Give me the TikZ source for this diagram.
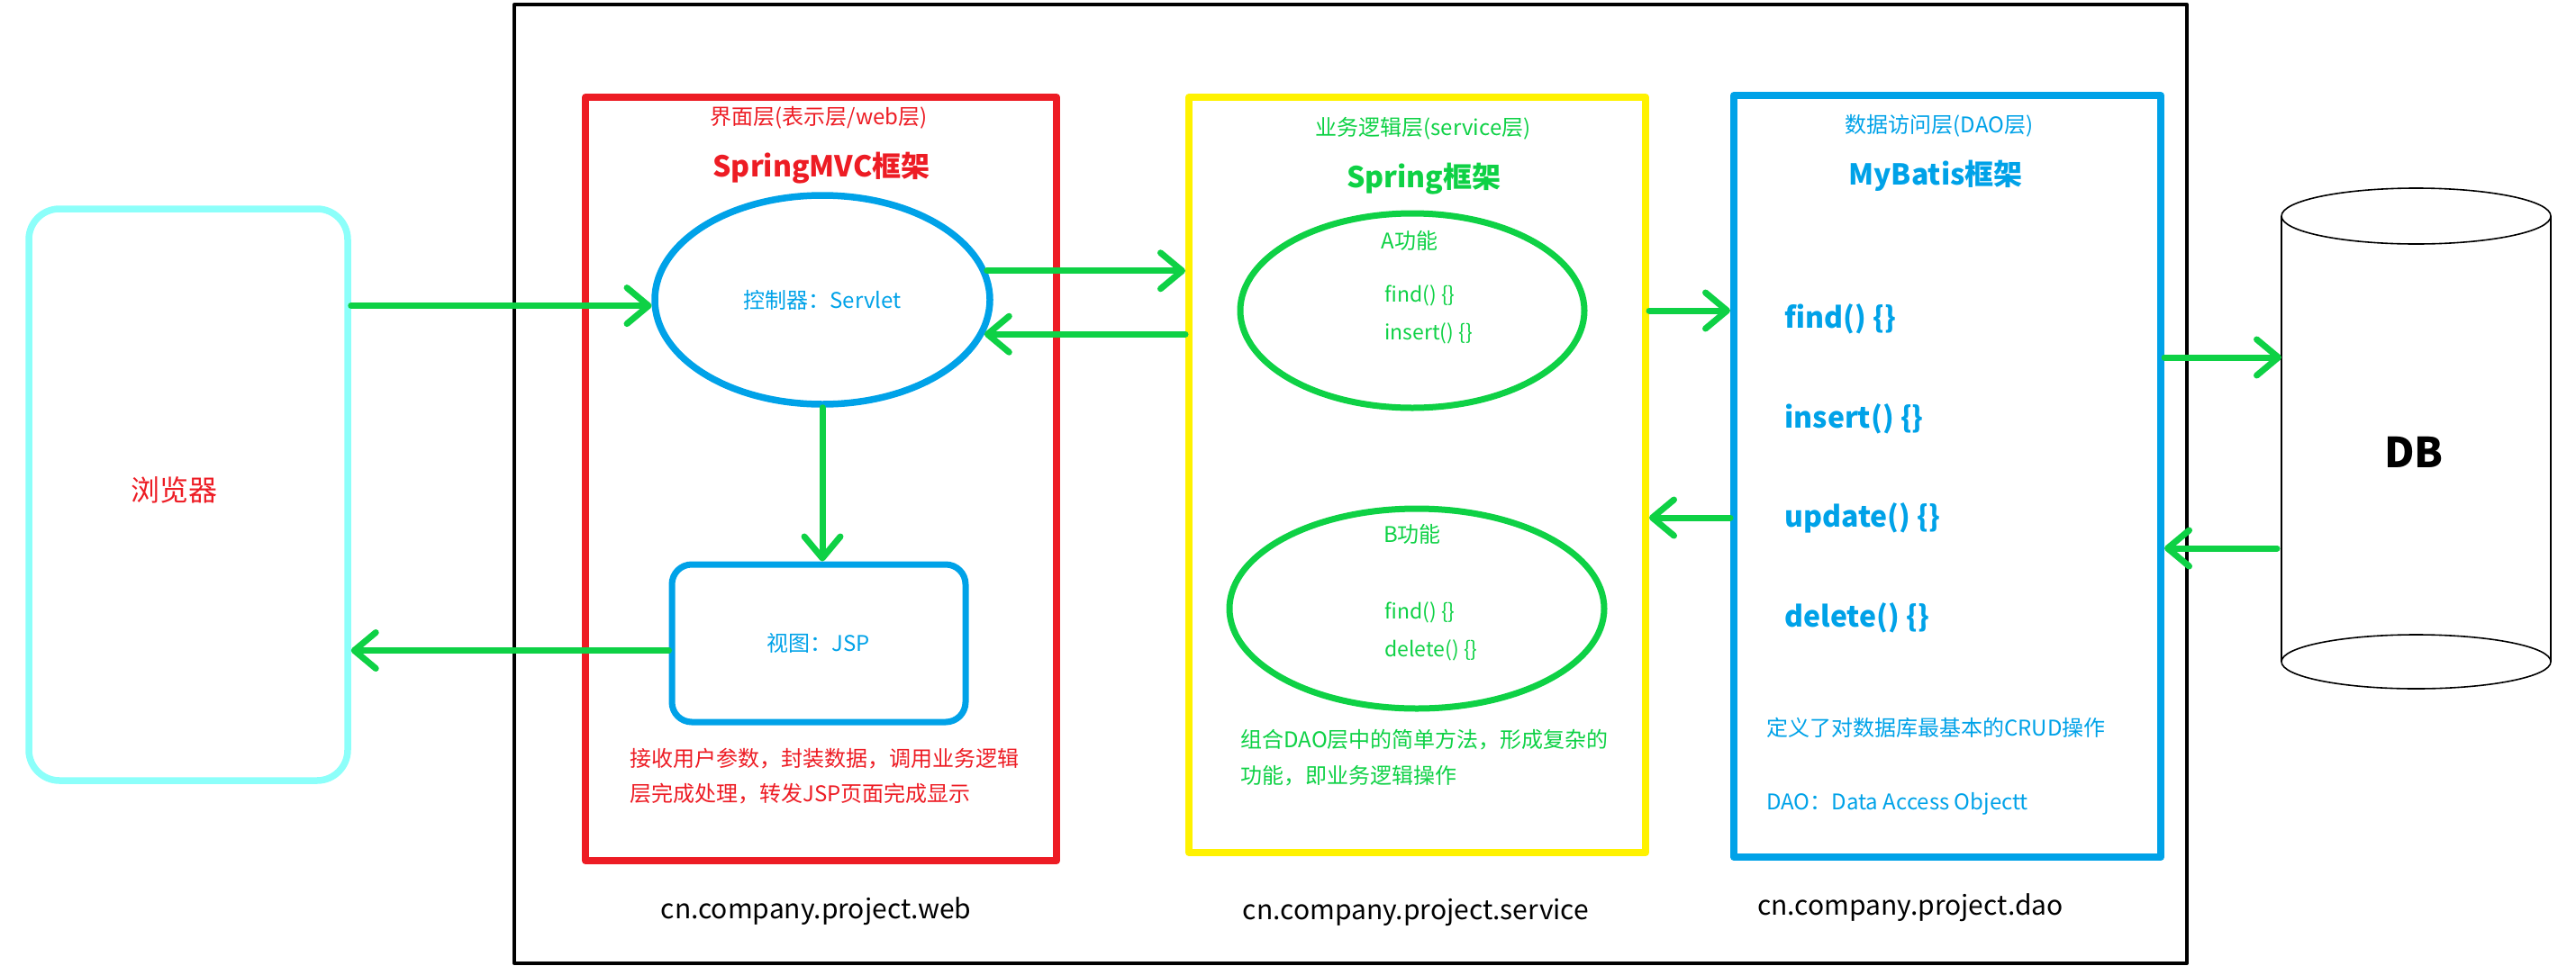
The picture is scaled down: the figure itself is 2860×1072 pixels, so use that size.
\documentclass[tikz,border=0pt]{standalone}
\usepackage{fontspec}
\setmainfont{Noto Sans CJK SC}
\usepackage{tikz}
\usetikzlibrary{arrows.meta, shapes.geometric, positioning}
\definecolor{webred}{RGB}{237,28,36}
\definecolor{srvyellow}{RGB}{255,242,0}
\definecolor{daoblue}{RGB}{0,162,232}
\definecolor{flowgreen}{RGB}{14,209,69}
\definecolor{browsercyan}{RGB}{140,255,250}
\tikzset{>/.tip={Straight Barb[length=12pt,width=20pt,round]}}
\tikzset{
 layer/.style={draw, line width=4pt, inner sep=0pt},
 flow/.style={->, draw=flowgreen, line width=3.5pt},
 small/.style={font=\fontsize{12}{14}\selectfont, inner sep=0pt},
 note/.style={font=\fontsize{12}{19.5}\selectfont, inner sep=0pt, align=left, anchor=west},
 heading/.style={font=\fontsize{16}{19}\selectfont\bfseries, inner sep=0pt},
 pkg/.style={font=\fontsize{15}{18}\selectfont, inner sep=0pt},
 code/.style={font=\fontsize{11.5}{14}\selectfont, inner sep=0pt, anchor=west},
 method/.style={font=\fontsize{16}{19}\selectfont\bfseries, inner sep=0pt, anchor=west, text=daoblue},
}

\begin{document}
\begin{tikzpicture}[line cap=round,line join=round,x=0.5pt,y=-0.5pt]
\useasboundingbox (0,0) rectangle (2860,1072);

% frame and layers
\draw[]
 (1499.5,537.5) node[draw, line width=2pt, minimum width=928.5pt, minimum height=532.5pt] (outer) {}
 (209,549.5) node[draw=browsercyan, line width=3.75pt, rounded corners=17pt, minimum width=177pt, minimum height=317.5pt] (browser) {}
 (911.5,532) node[layer, draw=webred, minimum width=261.5pt, minimum height=424pt] (web) {}
 (1573.5,527.5) node[layer, draw=srvyellow, minimum width=253.5pt, minimum height=419.5pt] (srv) {}
 (2162,529) node[layer, draw=daoblue, minimum width=237pt, minimum height=423pt] (dao) {};

% browser
\draw[] (193,544) node[font=\fontsize{16}{19}\selectfont, text=webred] (browsertxt) {浏览器};

% web layer
\draw[]
 (909,131) node[small, text=webred] (weblabel) {界面层(表示层/web层)}
 (912,187) node[heading, text=webred] (webtitle) {SpringMVC框架}
 (913,333) node[ellipse, draw=daoblue, line width=3.75pt, inner sep=0pt, minimum width=186pt, minimum height=116pt, font=\fontsize{12}{14}\selectfont, text=daoblue] (ctrl) {控制器：Servlet}
 (909,714.5) node[draw=daoblue, line width=3.5pt, rounded corners=11pt, minimum width=163pt, minimum height=87.5pt, font=\fontsize{12}{14}\selectfont, text=daoblue] (view) {视图：JSP}
 (699,862.5) node[note, text=webred] (webnote) {接收用户参数，封装数据，调用业务逻辑\\层完成处理，转发JSP页面完成显示}
 (906,1012) node[pkg] (webpkg) {cn.company.project.web};

% service layer
\draw[]
 (1580,143) node[small, text=flowgreen] (srvlabel) {业务逻辑层(service层)}
 (1581,199) node[heading, text=flowgreen] (srvtitle) {Spring框架}
 (1568,345) node[ellipse, draw=flowgreen, line width=3.5pt, minimum width=191pt, minimum height=108pt] (fa) {}
 (1573,676) node[ellipse, draw=flowgreen, line width=3.5pt, minimum width=208pt, minimum height=111pt] (fb) {}
 (1565,267) node[small, text=flowgreen] (falabel) {A功能}
 (1537,328) node[code, text=flowgreen] (fafind) {find() \{\}}
 (1537,370) node[code, text=flowgreen] (fainsert) {insert() \{\}}
 (1568,593) node[small, text=flowgreen] (fblabel) {B功能}
 (1537,680) node[code, text=flowgreen] (fbfind) {find() \{\}}
 (1537,722) node[code, text=flowgreen] (fbdelete) {delete() \{\}}
 (1377,842) node[note, text=flowgreen, font=\fontsize{12}{20}\selectfont] (srvnote) {组合DAO层中的简单方法，形成复杂的\\功能，即业务逻辑操作}
 (1572,1013) node[pkg] (srvpkg) {cn.company.project.service};

% dao layer
\draw[]
 (2153,140) node[small, text=daoblue] (daolabel) {数据访问层(DAO层)}
 (2149,195) node[heading, text=daoblue] (daotitle) {MyBatis框架}
 (1981,354) node[method] (mfind) {find() \{\}}
 (1981,465) node[method] (minsert) {insert() \{\}}
 (1981,575) node[method] (mupdate) {update() \{\}}
 (1981,686) node[method] (mdelete) {delete() \{\}}
 (1961,808) node[small, anchor=west, text=daoblue] (daonote) {定义了对数据库最基本的CRUD操作}
 (1961,893) node[small, anchor=west, text=daoblue] (daoname) {DAO：Data Access Objectt}
 (2121,1008) node[pkg] (daopkg) {cn.company.project.dao};

% database
\draw[line width=0.8pt]
 (2533,240) -- (2533,735)
 (2832,240) -- (2832,735)
 (2682.5,240) ellipse [x radius=149.5, y radius=31]
 (2682.5,735) ellipse [x radius=149.5, y radius=30];
\draw[] (2680,502) node[font=\fontsize{23}{27}\selectfont\bfseries, inner sep=0pt] (db) {DB};
\coordinate (dbin) at (2533,397);
\coordinate (dbout) at (2528,609);

% connectors
\draw[flow] (browser.east |- ctrl.182) -- (ctrl.182);
\draw[flow] (ctrl.10) -- (ctrl.10 -| srv.west);
\draw[flow] (ctrl.-12 -| srv.west) -- (ctrl.-12);
\draw[flow] (ctrl.south) -- (ctrl.south |- view.north);
\draw[flow] ([yshift=-4pt]view.west) -- ([yshift=-4pt]view.west -| browser.east);
\draw[flow] (srv.east |- fa.east) -- (fa.east -| dao.west);
\draw[flow] (dao.west |- mupdate.west) -- (srv.east |- mupdate.west);
\draw[flow] (dao.east |- dbin) -- (dbin);
\draw[flow] (dbout) -- (dbout -| dao.east);

\end{tikzpicture}
\end{document}
